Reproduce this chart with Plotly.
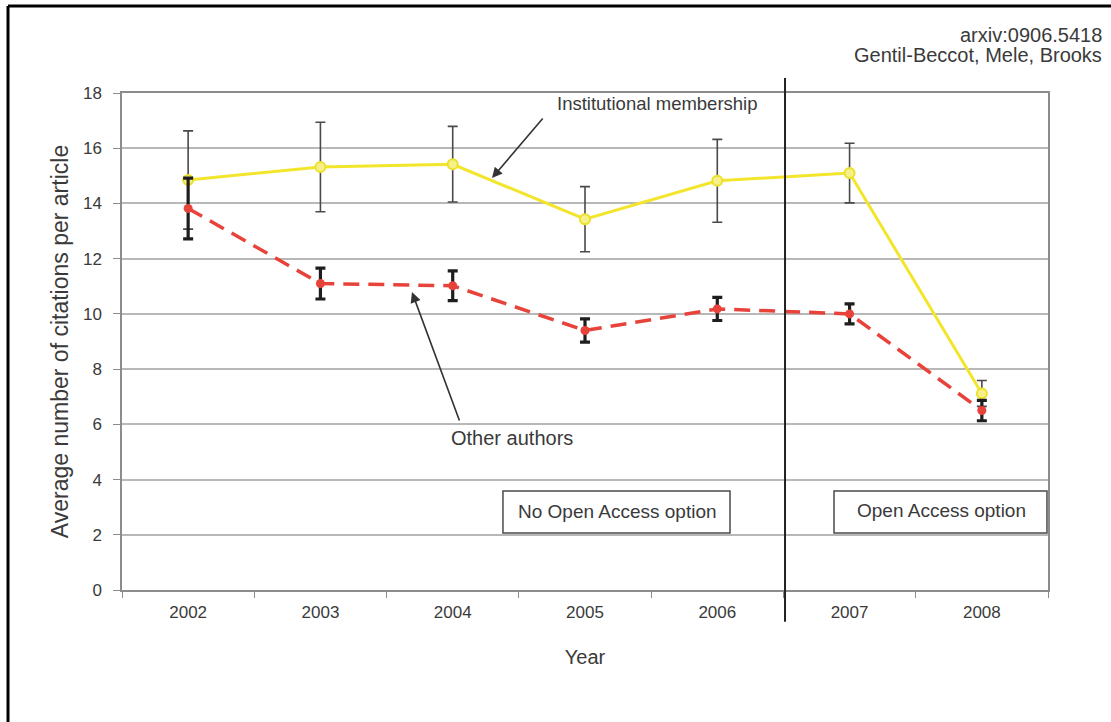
import plotly.graph_objects as go

# Citation data per publication year
years = ["2002", "2003", "2004", "2005", "2006", "2007", "2008"]
inst_mean = [14.85, 15.32, 15.42, 13.43, 14.82, 15.10, 7.12]
inst_err = [1.78, 1.62, 1.37, 1.18, 1.50, 1.08, 0.47]
other_mean = [13.82, 11.10, 11.02, 9.40, 10.18, 10.00, 6.50]
other_err = [1.10, 0.56, 0.54, 0.42, 0.42, 0.36, 0.37]

FONT = "Liberation Sans, Arial, sans-serif"
TXT = "#3a3a3a"
GRID = "#b8b8b8"
AX = "#8c8c8c"

fig = go.Figure()

fig.add_trace(go.Scatter(
    x=years, y=inst_mean, mode="lines+markers", name="Institutional membership",
    line=dict(color="#f2e52c", width=3),
    marker=dict(size=10, color="#f7f08a", line=dict(color="#ece12a", width=2)),
    error_y=dict(type="data", array=inst_err, visible=True,
                 color="#4a4a4a", thickness=1.6, width=5),
))

fig.add_trace(go.Scatter(
    x=years, y=other_mean, mode="lines+markers", name="Other authors",
    line=dict(color="#e8433a", width=3.5, dash="16px,9px"),
    marker=dict(size=9, color="#e8433a"),
    error_y=dict(type="data", array=other_err, visible=True,
                 color="#1e1e1e", thickness=3.2, width=5),
))

shapes = [
    # outer frame (top and left edges)
    dict(type="line", xref="paper", yref="paper", x0=-0.1231, x1=1.2, y0=1.1750, y1=1.1750,
         line=dict(color="black", width=3)),
    dict(type="line", xref="paper", yref="paper", x0=-0.1231, x1=-0.1231, y0=1.1750, y1=-0.4,
         line=dict(color="black", width=3)),
    # divider between the two periods
    dict(type="line", xref="paper", yref="paper", x0=0.716, x1=0.716, y0=1.030, y1=-0.064,
         line=dict(color="#222222", width=2)),
    # period label boxes
    dict(type="rect", xref="paper", yref="paper", x0=0.4114, x1=0.6566, y0=0.1147, y1=0.1992,
         line=dict(color="#4a4a4a", width=1.5), fillcolor="white"),
    dict(type="rect", xref="paper", yref="paper", x0=0.7689, x1=0.9989, y0=0.1147, y1=0.1992,
         line=dict(color="#4a4a4a", width=1.5), fillcolor="white"),
]

annotations = [
    dict(text="arxiv:0906.5418", xref="paper", yref="paper", x=1.0605, y=1.1167,
         xanchor="right", yanchor="middle", showarrow=False,
         font=dict(family=FONT, size=20, color=TXT)),
    dict(text="Gentil-Beccot, Mele, Brooks", xref="paper", yref="paper", x=1.0605, y=1.0765,
         xanchor="right", yanchor="middle", showarrow=False,
         font=dict(family=FONT, size=20, color=TXT)),
    dict(text="Institutional membership", xref="paper", yref="paper", x=0.5788, y=0.978,
         xanchor="center", yanchor="middle", showarrow=False,
         font=dict(family=FONT, size=18.5, color=TXT)),
    dict(text="Other authors", xref="paper", yref="paper", x=0.4212, y=0.3058,
         xanchor="center", yanchor="middle", showarrow=False,
         font=dict(family=FONT, size=20, color=TXT)),
    dict(text="No Open Access option", xref="paper", yref="paper", x=0.5346, y=0.157,
         xanchor="center", yanchor="middle", showarrow=False,
         font=dict(family=FONT, size=19, color=TXT)),
    dict(text="Open Access option", xref="paper", yref="paper", x=0.8855, y=0.159,
         xanchor="center", yanchor="middle", showarrow=False,
         font=dict(family=FONT, size=19, color=TXT)),
    # pointer arrows
    dict(text="", x=2.297, y=14.92, xref="x", yref="y", ax=52, ay=-61,
         showarrow=True, arrowhead=2, arrowsize=1.3, arrowwidth=1.6, arrowcolor="#333333",
         standoff=0, startstandoff=0),
    dict(text="", x=1.692, y=10.79, xref="x", yref="y", ax=48, ay=130,
         showarrow=True, arrowhead=2, arrowsize=1.3, arrowwidth=1.6, arrowcolor="#333333",
         standoff=0, startstandoff=0),
]

fig.update_layout(
    width=1111, height=722,
    margin=dict(l=122, r=63, t=93, b=132, pad=0),
    paper_bgcolor="white", plot_bgcolor="white",
    showlegend=False,
    font=dict(family=FONT, color=TXT),
    shapes=shapes,
    annotations=annotations,
    xaxis=dict(
        type="category", categoryorder="array", categoryarray=years,
        range=[-0.5, 6.5],
        showgrid=False, showline=True, linecolor=AX, linewidth=1.5, mirror=True,
        ticks="outside", tickson="boundaries", ticklen=6, tickcolor=AX, tickwidth=1,
        tickfont=dict(family=FONT, size=17, color=TXT),
        ticklabelstandoff=6,
        title=dict(text="Year", font=dict(family=FONT, size=20, color=TXT), standoff=29),
        zeroline=False,
    ),
    yaxis=dict(
        range=[0, 18], dtick=2, tick0=0,
        showgrid=True, gridcolor=GRID, gridwidth=1.5,
        showline=True, linecolor=AX, linewidth=1.5, mirror=True,
        ticks="outside", ticklen=7, tickcolor=AX, tickwidth=1,
        tickfont=dict(family=FONT, size=17, color=TXT),
        ticklabelstandoff=8,
        title=dict(text="Average number of citations per article",
                   font=dict(family=FONT, size=23, color=TXT), standoff=8),
        zeroline=False,
    ),
)

fig.write_html("out.html")
